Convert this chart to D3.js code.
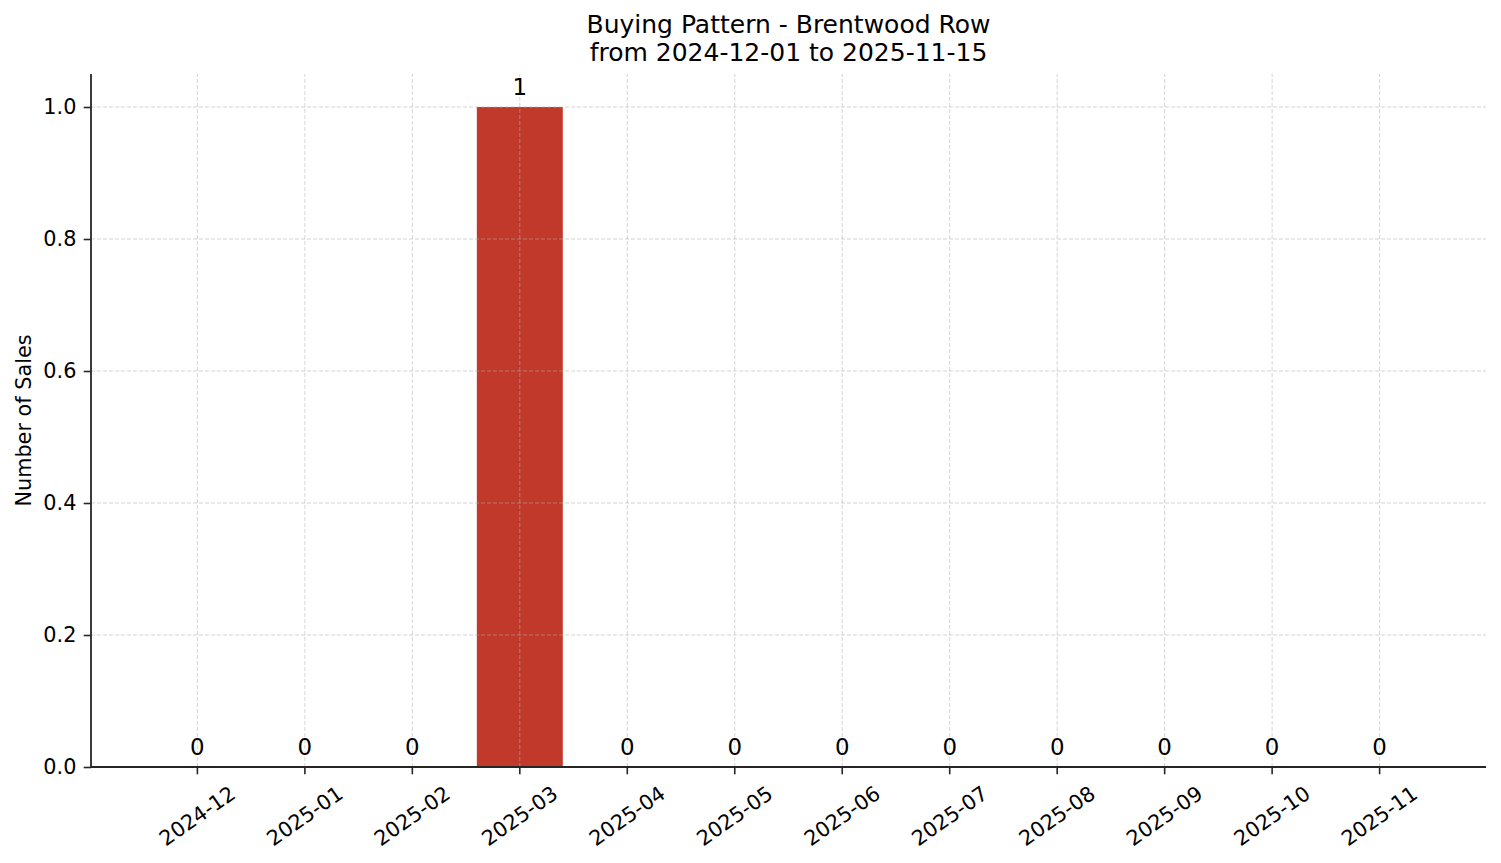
<!DOCTYPE html>
<html>
<head>
    <meta charset="UTF-8" />
    <script src="https://cdn.jsdelivr.net/npm/d3@7/dist/d3.min.js"></script>
    <title>Buying Pattern - Brentwood Row</title>
    <style>
        body { margin: 0; background: #fff; }
        svg text { font-family: "DejaVu Sans", sans-serif; fill: #000; }
    </style>
</head>
<body>
    <div id="chart"></div>
    <script>
        // monthly sales counts
        const months = ["2024-12", "2025-01", "2025-02", "2025-03", "2025-04", "2025-05",
                        "2025-06", "2025-07", "2025-08", "2025-09", "2025-10", "2025-11"];
        const sales = [0, 0, 0, 1, 0, 0, 0, 0, 0, 0, 0, 0];
        const yTicks = [0, 0.2, 0.4, 0.6, 0.8, 1.0];
        const titleLines = ["Buying Pattern - Brentwood Row", "from 2024-12-01 to 2025-11-15"];

        const width = 1501, height = 863;
        const margin = {top: 74, right: 15, bottom: 96, left: 91};
        const barColor = "#c0392b";
        const axisColor = "#262626";

        const svg = d3.select("#chart").append("svg")
            .attr("width", width)
            .attr("height", height)
            .attr("viewBox", [0, 0, width, height]);

        const x = d3.scaleBand()
            .domain(months)
            .range([margin.left, width - margin.right])
            .paddingInner(0.2)
            .paddingOuter(0.59);

        const y = d3.scaleLinear()
            .domain([0, 1.05])
            .range([height - margin.bottom, margin.top]);

        const data = months.map((m, i) => ({month: m, value: sales[i]}));

        // bars
        svg.append("g")
            .selectAll("rect")
            .data(data)
            .join("rect")
            .attr("x", d => x(d.month))
            .attr("width", x.bandwidth())
            .attr("y", d => y(d.value))
            .attr("height", d => y(0) - y(d.value))
            .attr("fill", barColor);

        // grid (drawn over the bars, like matplotlib)
        const grid = svg.append("g")
            .attr("stroke", "#b0b0b0")
            .attr("stroke-opacity", 0.55)
            .attr("stroke-width", 1)
            .attr("stroke-dasharray", "4,2");

        grid.selectAll(".vgrid")
            .data(months)
            .join("line")
            .attr("class", "vgrid")
            .attr("x1", d => x(d) + x.bandwidth() / 2)
            .attr("x2", d => x(d) + x.bandwidth() / 2)
            .attr("y1", y.range()[0])
            .attr("y2", y.range()[1]);

        grid.selectAll(".hgrid")
            .data(yTicks)
            .join("line")
            .attr("class", "hgrid")
            .attr("x1", x.range()[0])
            .attr("x2", x.range()[1])
            .attr("y1", d => y(d))
            .attr("y2", d => y(d));

        // bar labels
        svg.append("g")
            .selectAll("text")
            .data(data)
            .join("text")
            .attr("x", d => x(d.month) + x.bandwidth() / 2)
            .attr("y", d => y(d.value) - 12.5)
            .attr("text-anchor", "middle")
            .attr("font-size", "22.9px")
            .text(d => d.value);

        // x axis
        const xAxis = svg.append("g")
            .attr("transform", `translate(0,${y(0)})`)
            .call(d3.axisBottom(x).tickSizeOuter(0).tickSize(7.3).tickPadding(0));

        xAxis.select(".domain")
            .attr("d", `M${x.range()[0]},0H${x.range()[1]}`)
            .attr("stroke", axisColor)
            .attr("stroke-width", 1.8);
        xAxis.selectAll(".tick line").attr("stroke", axisColor).attr("stroke-width", 1.6);
        xAxis.selectAll(".tick text")
            .attr("font-size", "20.8px")
            .attr("fill", "#000")
            .attr("text-anchor", "middle")
            .attr("dominant-baseline", "central")
            .attr("y", 0)
            .attr("dy", null)
            .attr("transform", "translate(0,49) rotate(-35)");

        // y axis
        const yAxis = svg.append("g")
            .attr("transform", `translate(${x.range()[0]},0)`)
            .call(d3.axisLeft(y).tickValues(yTicks).tickFormat(d3.format(".1f"))
                .tickSizeOuter(0).tickSize(7.3).tickPadding(7.3));

        yAxis.select(".domain")
            .attr("d", `M0,${y.range()[0]}V${y.range()[1]}`)
            .attr("stroke", axisColor)
            .attr("stroke-width", 1.8);
        yAxis.selectAll(".tick line").attr("stroke", axisColor).attr("stroke-width", 1.6);
        yAxis.selectAll(".tick text")
            .attr("font-size", "20.8px")
            .attr("fill", "#000");

        // y label
        svg.append("text")
            .attr("transform", `translate(31,${(y.range()[0] + y.range()[1]) / 2}) rotate(-90)`)
            .attr("text-anchor", "middle")
            .attr("font-size", "20.8px")
            .text("Number of Sales");

        // title
        svg.append("text")
            .attr("x", (x.range()[0] + x.range()[1]) / 2)
            .attr("text-anchor", "middle")
            .attr("font-size", "25px")
            .selectAll("tspan")
            .data(titleLines)
            .join("tspan")
            .attr("x", (x.range()[0] + x.range()[1]) / 2)
            .attr("y", (d, i) => 33 + i * 28)
            .text(d => d);
    </script>
</body>
</html>
